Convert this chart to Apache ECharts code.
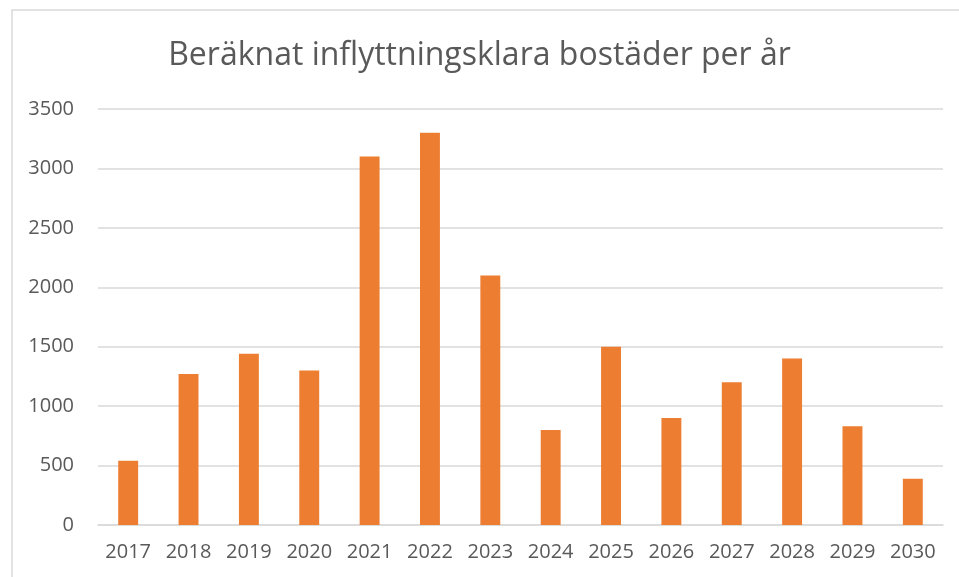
<!DOCTYPE html>
<html><head><meta charset="utf-8">
<script src="https://cdn.jsdelivr.net/npm/echarts@6/dist/echarts.min.js"></script>
<style>html,body{margin:0;padding:0;background:#fff}#c{width:959px;height:577px}</style>
</head><body><div id="c"></div>
<script>
const title = 'Beräknat inflyttningsklara bostäder per år';
const years = ['2017','2018','2019','2020','2021','2022','2023','2024','2025','2026','2027','2028','2029','2030'];
const values = [540, 1270, 1440, 1300, 3100, 3300, 2100, 800, 1500, 900, 1200, 1400, 830, 390];
const yTicks = {min: 0, max: 3500, interval: 500};

const chart = echarts.init(document.getElementById('c'));
chart.setOption({
  animation: false,
  graphic: [{type:'rect', shape:{x:12,y:10,width:960,height:580}, style:{fill:'none', stroke:'#d9d9d9', lineWidth:1.5}}],
  title: {text: title, left: 'center', top: 35, textStyle: {fontFamily: 'Open Sans', fontWeight: 'normal', fontSize: 32, color: '#595959'}},
  grid: {left: 98, right: 16, top: 109, bottom: 52},
  xAxis: {type: 'category', data: years,
    axisLine: {lineStyle: {color: '#d9d9d9', width: 1.5}}, axisTick: {show: false},
    axisLabel: {fontFamily: 'Open Sans', fontSize: 20, color: '#595959', margin: 17}},
  yAxis: {type: 'value', min: yTicks.min, max: yTicks.max, interval: yTicks.interval,
    axisLine: {show: false}, axisTick: {show: false},
    splitLine: {lineStyle: {color: '#d9d9d9', width: 1.5}},
    axisLabel: {fontFamily: 'Open Sans', fontSize: 20, color: '#595959', margin: 24, formatter: v => String(v)}},
  series: [{type: 'bar', data: values, barWidth: '33%', itemStyle: {color: '#ED7D31'}}]
});
</script></body></html>
